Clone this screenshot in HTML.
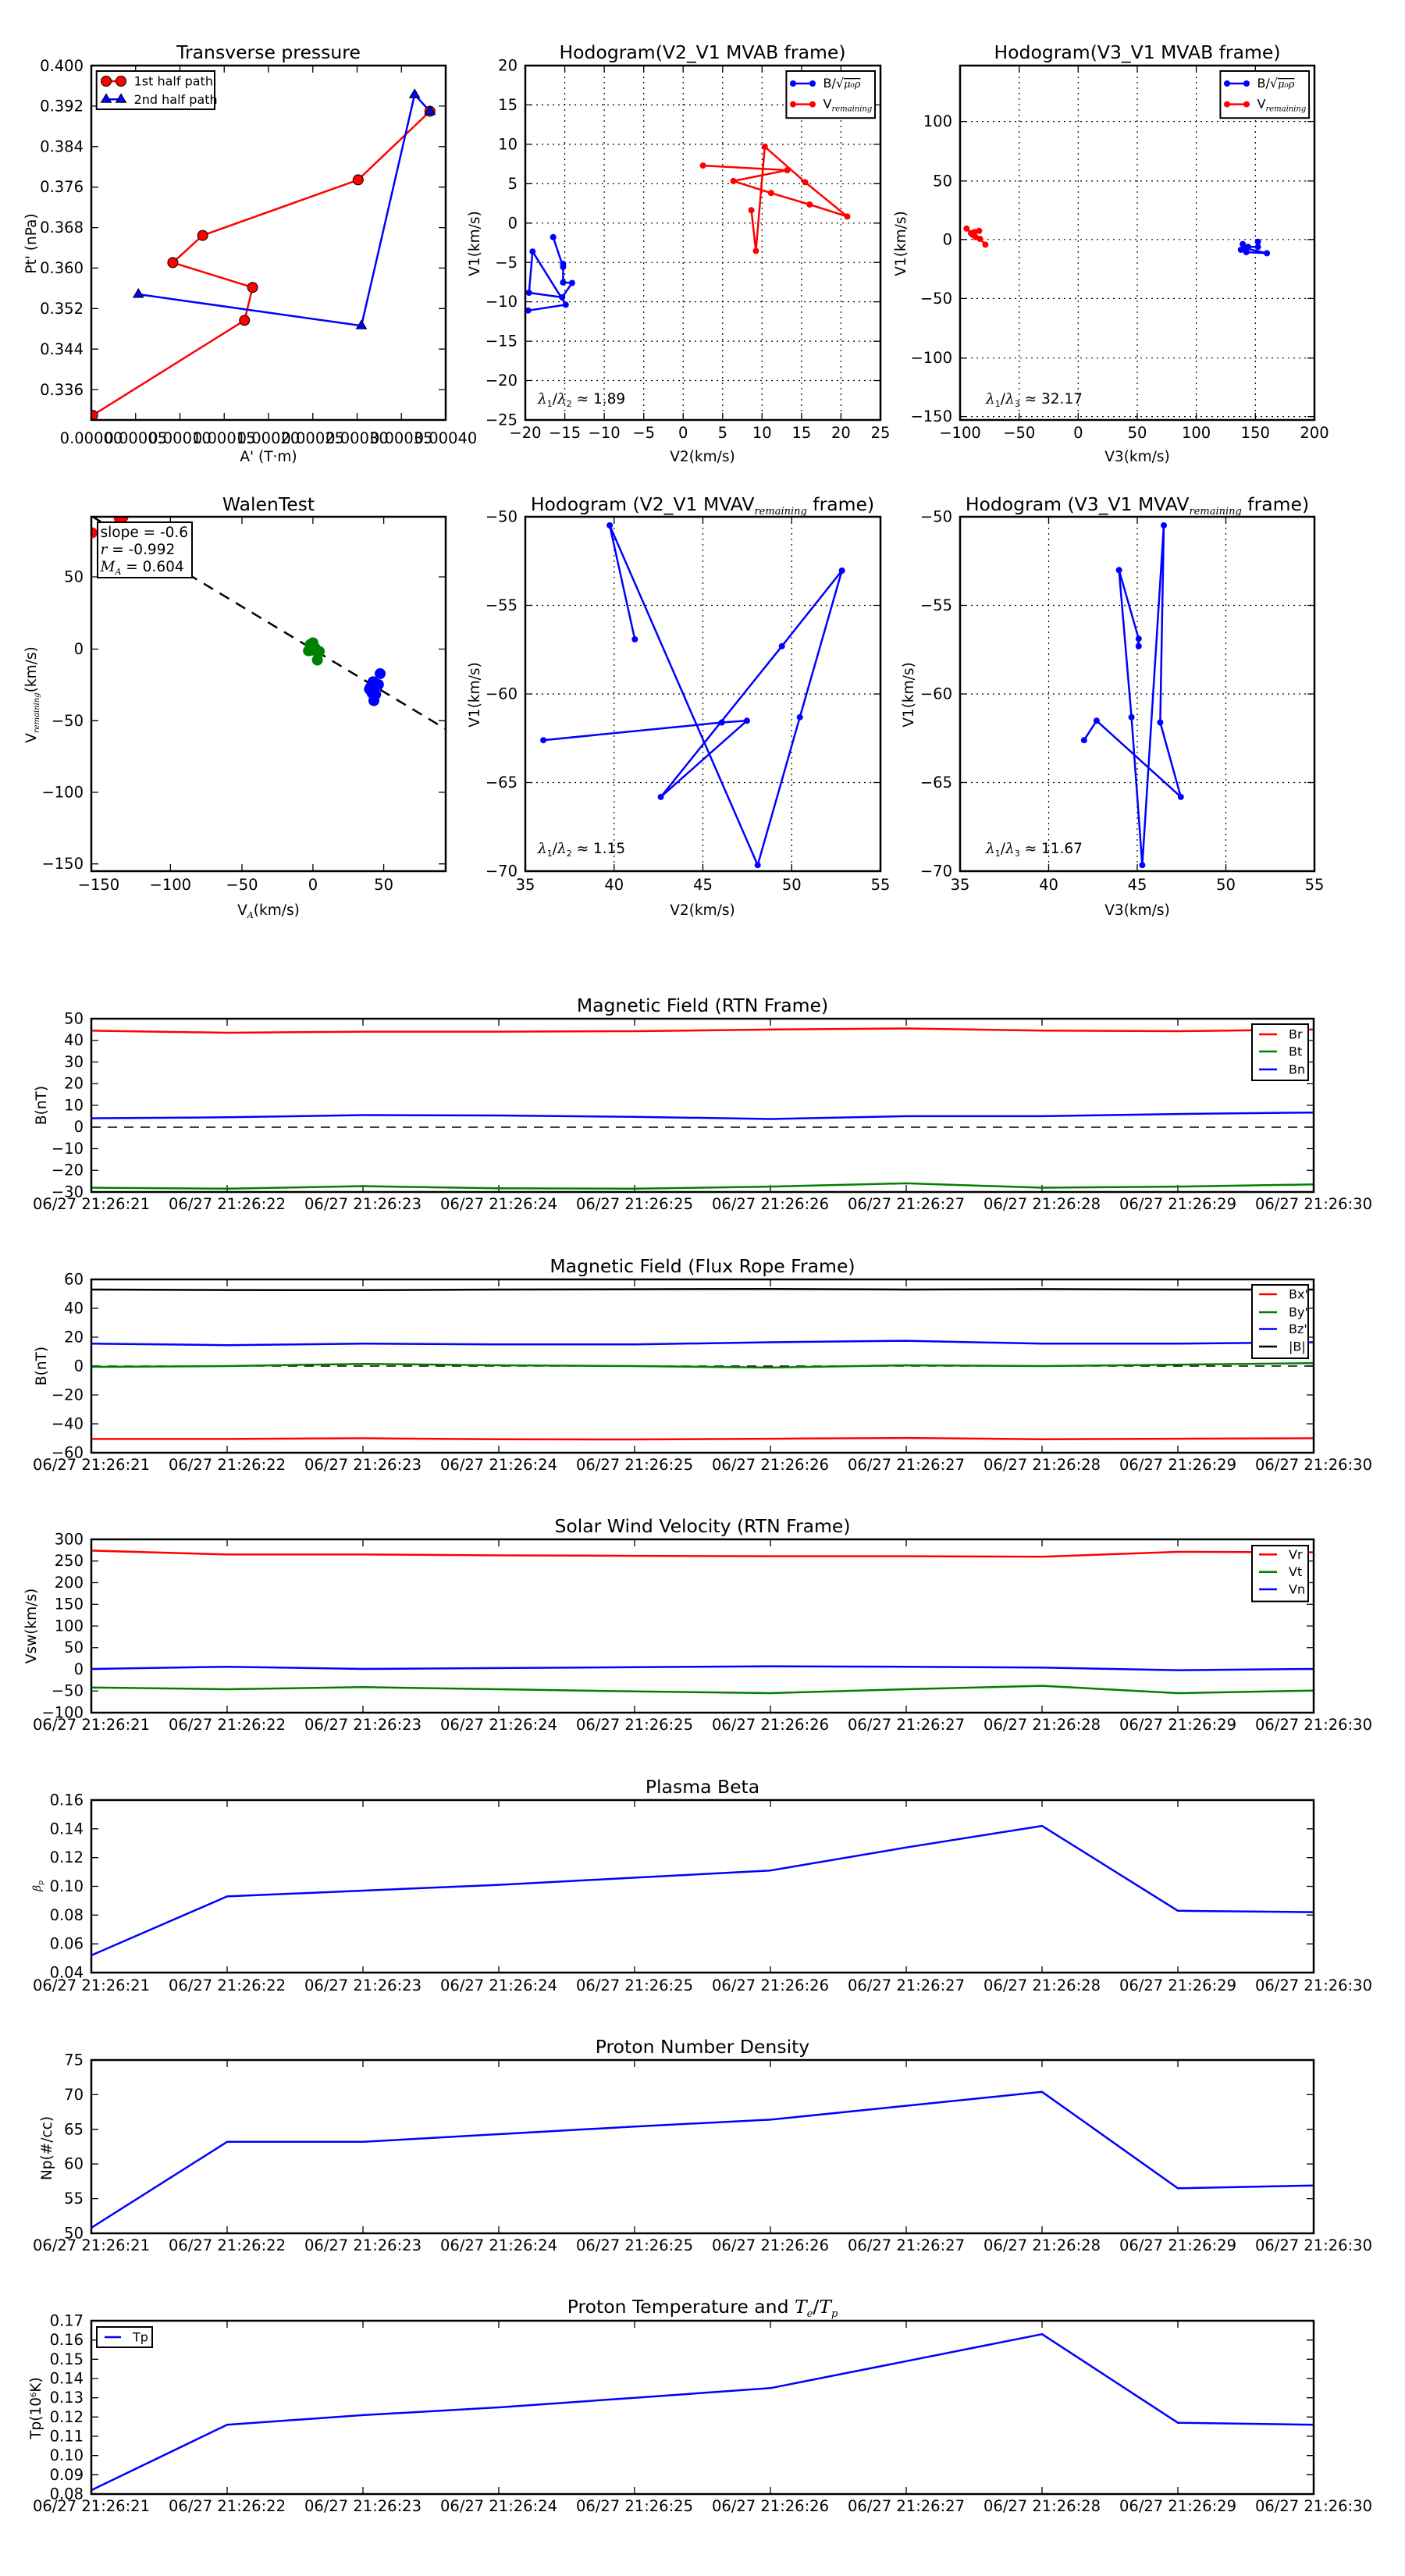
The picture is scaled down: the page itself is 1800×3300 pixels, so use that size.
<!DOCTYPE html>
<html><head><meta charset="utf-8"><style>
html,body{margin:0;padding:0;background:#fff}
svg{display:block}
text{font-family:"DejaVu Sans","Liberation Sans",sans-serif;fill:#000}
.t{font-size:18.5px}
.ti{font-size:23.5px;text-anchor:middle}
.yl{font-size:19.5px;text-anchor:end}
.xl{font-size:19.5px;text-anchor:middle}
.lab{font-size:18.5px;text-anchor:middle}
.lg{font-size:16px}
.ax{fill:none;stroke:#000;stroke-width:2.5}
.tk{fill:none;stroke:#000;stroke-width:1.3}
.gr{fill:none;stroke:#000;stroke-width:1.2;stroke-dasharray:2,5}
.r{fill:none;stroke:#f00;stroke-width:2.5;stroke-linejoin:round}
.g{fill:none;stroke:#008000;stroke-width:2.5;stroke-linejoin:round}
.b{fill:none;stroke:#00f;stroke-width:2.5;stroke-linejoin:round}
.k{fill:none;stroke:#000;stroke-width:2.5}
.it{font-family:"DejaVu Serif","Liberation Serif",serif;font-style:italic}
</style></head><body>
<svg width="1800" height="3300" viewBox="0 0 1800 3300" xmlns="http://www.w3.org/2000/svg">
<rect width="1800" height="3300" fill="#fff"/>

<!-- ============ Panel 1: Transverse pressure ============ -->
<text class="ti" x="344" y="75">Transverse pressure</text>
<path class="tk" d="M117 135.9h9M117 187.8h9M117 239.7h9M117 291.6h9M117 343.4h9M117 395.3h9M117 447.2h9M117 499.1h9M571 135.9h-9M571 187.8h-9M571 239.7h-9M571 291.6h-9M571 343.4h-9M571 395.3h-9M571 447.2h-9M571 499.1h-9
M173.75 84v9M230.5 84v9M287.25 84v9M344 84v9M400.75 84v9M457.5 84v9M514.25 84v9M173.75 538v-9M230.5 538v-9M287.25 538v-9M344 538v-9M400.75 538v-9M457.5 538v-9M514.25 538v-9"/>
<g class="yl"><text x="107" y="91">0.400</text><text x="107" y="142.5">0.392</text><text x="107" y="194.5">0.384</text><text x="107" y="246">0.376</text><text x="107" y="298">0.368</text><text x="107" y="350">0.360</text><text x="107" y="402">0.352</text><text x="107" y="454">0.344</text><text x="107" y="506">0.336</text></g>
<g class="xl"><text x="117" y="568">0.00000</text><text x="173.75" y="568">0.00005</text><text x="230.5" y="568">0.00010</text><text x="287.25" y="568">0.00015</text><text x="344" y="568">0.00020</text><text x="400.75" y="568">0.00025</text><text x="457.5" y="568">0.00030</text><text x="514.25" y="568">0.00035</text><text x="571" y="568">0.00040</text></g>
<text class="lab" x="344" y="591">A' (T·m)</text>
<text class="lab" transform="translate(46,312) rotate(-90)">Pt' (nPa)</text>
<svg x="117" y="84" width="454" height="454" viewBox="117 84 454 454" overflow="hidden">
<polyline class="r" points="118.7,532 313.3,410.4 323.6,368.2 221.4,336.4 259.7,301.6 458.8,230.4 550.8,142.6"/>
<polyline class="b" points="177.3,377 463,417.3 531.2,121.2 550.8,142.6"/>
<g fill="#f00" stroke="#000" stroke-width="1"><circle cx="118.7" cy="532" r="6.5"/><circle cx="313.3" cy="410.4" r="6.5"/><circle cx="323.6" cy="368.2" r="6.5"/><circle cx="221.4" cy="336.4" r="6.5"/><circle cx="259.7" cy="301.6" r="6.5"/><circle cx="458.8" cy="230.4" r="6.5"/><circle cx="550.8" cy="142.6" r="6.5"/></g>
<g fill="#00f" stroke="#000" stroke-width="1"><path d="M177.3 370l6.5 11h-13z"/><path d="M463 410.3l6.5 11h-13z"/><path d="M531.2 114.2l6.5 11h-13z"/><path d="M550.8 135.6l6.5 11h-13z"/></g>
</svg>
<rect class="ax" x="117" y="84" width="454" height="454"/>
<rect x="123.7" y="91" width="151.3" height="49" fill="#fff" stroke="#000" stroke-width="2"/>
<path class="r" d="M136 104H155"/><circle cx="136" cy="104" r="6.5" fill="#f00" stroke="#000"/><circle cx="155" cy="104" r="6.5" fill="#f00" stroke="#000"/>
<path class="b" d="M136 127.3H155"/><path d="M136 120.3l6.5 11h-13zM155 120.3l6.5 11h-13z" fill="#00f" stroke="#000"/>
<text class="lg" x="171.6" y="109.5">1st half path</text><text class="lg" x="171.6" y="132.8">2nd half path</text>

<!-- ============ Panel 2: Hodogram V2_V1 MVAB ============ -->
<text class="ti" x="900" y="75">Hodogram(V2_V1 MVAB frame)</text>
<path class="gr" d="M723.6 84V538M774.1 84V538M824.7 84V538M875.2 84V538M925.8 84V538M976.3 84V538M1026.9 84V538M1077.4 84V538M673 134.4H1128M673 184.9H1128M673 235.3H1128M673 285.8H1128M673 336.2H1128M673 386.6H1128M673 437.1H1128M673 487.5H1128"/>
<path class="tk" d="M723.6 84v9M774.1 84v9M824.7 84v9M875.2 84v9M925.8 84v9M976.3 84v9M1026.9 84v9M1077.4 84v9M723.6 538v-9M774.1 538v-9M824.7 538v-9M875.2 538v-9M925.8 538v-9M976.3 538v-9M1026.9 538v-9M1077.4 538v-9M673 134.4h9M673 184.9h9M673 235.3h9M673 285.8h9M673 336.2h9M673 386.6h9M673 437.1h9M673 487.5h9M1128 134.4h-9M1128 184.9h-9M1128 235.3h-9M1128 285.8h-9M1128 336.2h-9M1128 386.6h-9M1128 437.1h-9M1128 487.5h-9"/>
<g class="yl"><text x="663" y="90.5">20</text><text x="663" y="141">15</text><text x="663" y="191.5">10</text><text x="663" y="242">5</text><text x="663" y="292.5">0</text><text x="663" y="343">−5</text><text x="663" y="393">−10</text><text x="663" y="443.5">−15</text><text x="663" y="494">−20</text><text x="663" y="544.5">−25</text></g>
<g class="xl"><text x="673" y="561">−20</text><text x="723.6" y="561">−15</text><text x="774.1" y="561">−10</text><text x="824.7" y="561">−5</text><text x="875.2" y="561">0</text><text x="925.8" y="561">5</text><text x="976.3" y="561">10</text><text x="1026.9" y="561">15</text><text x="1077.4" y="561">20</text><text x="1128" y="561">25</text></g>
<text class="lab" x="900" y="591">V2(km/s)</text>
<text class="lab" transform="translate(614,312) rotate(-90)">V1(km/s)</text>
<polyline class="b" points="708.7,303.8 721.4,342 721.4,361.8 732.9,362.5 720.2,380.9 677.7,375 682.3,322.2 724.8,390.4 676.6,397.8"/>
<g fill="#00f"><circle cx="708.7" cy="303.8" r="4"/><circle cx="721.4" cy="342" r="4"/><circle cx="721.4" cy="361.8" r="4"/><circle cx="732.9" cy="362.5" r="4"/><circle cx="720.2" cy="380.9" r="4"/><circle cx="677.7" cy="375" r="4"/><circle cx="682.3" cy="322.2" r="4"/><circle cx="724.8" cy="390.4" r="4"/><circle cx="676.6" cy="397.8" r="4"/><circle cx="721.4" cy="338" r="4"/></g>
<polyline class="r" points="962.6,269.3 968.4,321.4 979.8,187.9 1031.5,233.4 1085.5,277.4 1037.3,262 987.9,247.3 939.6,231.9 1008.6,218 900.6,212.1"/>
<g fill="#f00"><circle cx="962.6" cy="269.3" r="4"/><circle cx="968.4" cy="321.4" r="4"/><circle cx="979.8" cy="187.9" r="4"/><circle cx="1031.5" cy="233.4" r="4"/><circle cx="1085.5" cy="277.4" r="4"/><circle cx="1037.3" cy="262" r="4"/><circle cx="987.9" cy="247.3" r="4"/><circle cx="939.6" cy="231.9" r="4"/><circle cx="1008.6" cy="218" r="4"/><circle cx="900.6" cy="212.1" r="4"/></g>
<rect class="ax" x="673" y="84" width="455" height="454"/>
<text class="t" x="689" y="517"><tspan class="it">λ</tspan><tspan font-size="11" dy="4">1</tspan><tspan dy="-4">/</tspan><tspan class="it">λ</tspan><tspan font-size="11" dy="4">2</tspan><tspan dy="-4"> ≈ 1.89</tspan></text>
<rect x="1007.4" y="91" width="113.6" height="60.2" fill="#fff" stroke="#000" stroke-width="2"/>
<path class="b" d="M1016 107H1041"/><circle cx="1016" cy="107" r="4" fill="#00f"/><circle cx="1041" cy="107" r="4" fill="#00f"/>
<path class="r" d="M1016 133.6H1041"/><circle cx="1016" cy="133.6" r="4" fill="#f00"/><circle cx="1041" cy="133.6" r="4" fill="#f00"/>
<text class="lg" x="1054.5" y="112">B/<tspan>√</tspan><tspan class="it" font-size="13" text-decoration="overline">μ₀ρ</tspan></text>
<text class="lg" x="1054.5" y="138.5">V<tspan class="it" font-size="10" dy="4">remaining</tspan></text>

<!-- ============ Panel 3: Hodogram V3_V1 MVAB ============ -->
<text class="ti" x="1457" y="75">Hodogram(V3_V1 MVAB frame)</text>
<path class="gr" d="M1305.7 84V538M1381.3 84V538M1457 84V538M1532.6 84V538M1608.3 84V538M1230 155.6H1684M1230 231.9H1684M1230 306.8H1684M1230 382.4H1684M1230 458.7H1684M1230 533.6H1684"/>
<path class="tk" d="M1305.7 84v9M1381.3 84v9M1457 84v9M1532.6 84v9M1608.3 84v9M1305.7 538v-9M1381.3 538v-9M1457 538v-9M1532.6 538v-9M1608.3 538v-9M1230 155.6h9M1230 231.9h9M1230 306.8h9M1230 382.4h9M1230 458.7h9M1230 533.6h9M1684 155.6h-9M1684 231.9h-9M1684 306.8h-9M1684 382.4h-9M1684 458.7h-9M1684 533.6h-9"/>
<g class="yl"><text x="1220" y="162">100</text><text x="1220" y="238.5">50</text><text x="1220" y="313.5">0</text><text x="1220" y="389">−50</text><text x="1220" y="465">−100</text><text x="1220" y="540">−150</text></g>
<g class="xl"><text x="1230" y="561">−100</text><text x="1305.7" y="561">−50</text><text x="1381.3" y="561">0</text><text x="1457" y="561">50</text><text x="1532.6" y="561">100</text><text x="1608.3" y="561">150</text><text x="1684" y="561">200</text></g>
<text class="lab" x="1457" y="591">V3(km/s)</text>
<text class="lab" transform="translate(1160,312) rotate(-90)">V1(km/s)</text>
<polyline class="r" points="1238.3,292.8 1244,298.7 1248.6,297.2 1254.4,295.8 1246.3,300.9 1249.8,303.8 1255.5,306 1262.4,313.4"/>
<g fill="#f00"><circle cx="1238.3" cy="292.8" r="4"/><circle cx="1244" cy="298.7" r="4"/><circle cx="1248.6" cy="297.2" r="4"/><circle cx="1254.4" cy="295.8" r="4"/><circle cx="1246.3" cy="300.9" r="4"/><circle cx="1249.8" cy="303.8" r="4"/><circle cx="1255.5" cy="306" r="4"/><circle cx="1262.4" cy="313.4" r="4"/></g>
<polyline class="b" points="1592.1,312.6 1589.8,320 1596.7,323 1623.1,324.4 1594.4,317.8 1599,316.3 1611.6,316.3 1611.6,309.7"/>
<g fill="#00f"><circle cx="1589.8" cy="320" r="4"/><circle cx="1592.1" cy="312.6" r="4"/><circle cx="1596.7" cy="323" r="4"/><circle cx="1599" cy="316.3" r="4"/><circle cx="1611.6" cy="316.3" r="4"/><circle cx="1611.6" cy="309.7" r="4"/><circle cx="1623.1" cy="324.4" r="4"/><circle cx="1594.4" cy="317.8" r="4"/></g>
<rect class="ax" x="1230" y="84" width="454" height="454"/>
<text class="t" x="1263" y="517"><tspan class="it">λ</tspan><tspan font-size="11" dy="4">1</tspan><tspan dy="-4">/</tspan><tspan class="it">λ</tspan><tspan font-size="11" dy="4">3</tspan><tspan dy="-4"> ≈ 32.17</tspan></text>
<rect x="1563.4" y="91" width="113.7" height="60.2" fill="#fff" stroke="#000" stroke-width="2"/>
<path class="b" d="M1572 107H1597"/><circle cx="1572" cy="107" r="4" fill="#00f"/><circle cx="1597" cy="107" r="4" fill="#00f"/>
<path class="r" d="M1572 133.6H1597"/><circle cx="1572" cy="133.6" r="4" fill="#f00"/><circle cx="1597" cy="133.6" r="4" fill="#f00"/>
<text class="lg" x="1610.5" y="112">B/<tspan>√</tspan><tspan class="it" font-size="13" text-decoration="overline">μ₀ρ</tspan></text>
<text class="lg" x="1610.5" y="138.5">V<tspan class="it" font-size="10" dy="4">remaining</tspan></text>

<!-- ============ Panel 4: WalenTest ============ -->
<text class="ti" x="344" y="654">WalenTest</text>
<path class="tk" d="M218.3 662v9M310 662v9M400.9 662v9M491.6 662v9M218.3 1116v-9M310 1116v-9M400.9 1116v-9M491.6 1116v-9M117 739h9M117 831.5h9M117 923.3h9M117 1015h9M117 1106.7h9M571 739h-9M571 831.5h-9M571 923.3h-9M571 1015h-9M571 1106.7h-9"/>
<g class="yl"><text x="107" y="745.5">50</text><text x="107" y="838">0</text><text x="107" y="930">−50</text><text x="107" y="1021.5">−100</text><text x="107" y="1113">−150</text></g>
<g class="xl"><text x="126.4" y="1140">−150</text><text x="218.3" y="1140">−100</text><text x="310" y="1140">−50</text><text x="400.9" y="1140">0</text><text x="491.6" y="1140">50</text></g>
<text class="lab" x="344" y="1172">V<tspan font-size="11" dy="4" class="it">A</tspan><tspan dy="-4">(km/s)</tspan></text>
<text class="lab" transform="translate(46,890) rotate(-90)">V<tspan font-size="10" dy="4" class="it">remaining</tspan><tspan dy="-4">(km/s)</tspan></text>
<svg x="117" y="662" width="454" height="454" viewBox="117 662 454 454" overflow="hidden">
<path d="M117 661L571 934" stroke="#000" stroke-width="2.5" stroke-dasharray="14,10" fill="none"/>
<g fill="#f00"><circle cx="118" cy="682.6" r="7"/><circle cx="152.8" cy="664" r="7"/><circle cx="157.4" cy="662.7" r="7"/></g>
<g fill="#008000"><circle cx="397.5" cy="825.6" r="7"/><circle cx="400.9" cy="823.5" r="7"/><circle cx="398.6" cy="833" r="7"/><circle cx="403.2" cy="829.3" r="7"/><circle cx="407.8" cy="836.7" r="7"/><circle cx="409" cy="834.5" r="7"/><circle cx="406.6" cy="845.5" r="7"/><circle cx="395.2" cy="833.7" r="7"/></g>
<g fill="#00f"><circle cx="487" cy="863" r="7"/><circle cx="477.9" cy="873.4" r="7"/><circle cx="480.2" cy="877" r="7"/><circle cx="484.8" cy="877" r="7"/><circle cx="474.4" cy="880.7" r="7"/><circle cx="476.7" cy="888" r="7"/><circle cx="481.3" cy="889.5" r="7"/><circle cx="479" cy="897.6" r="7"/><circle cx="473.3" cy="882.9" r="7"/></g>
</svg>
<rect class="ax" x="117" y="662" width="454" height="454"/>
<rect x="125" y="669" width="121" height="71" fill="#fff" stroke="#000" stroke-width="2"/>
<text class="t" x="128.5" y="688">slope = -0.6</text>
<text class="t" x="128.5" y="710"><tspan class="it">r</tspan> = -0.992</text>
<text class="t" x="128.5" y="732"><tspan class="it">M</tspan><tspan class="it" font-size="11" dy="4">A</tspan><tspan dy="-4"> = 0.604</tspan></text>

<!-- ============ Panel 5: Hodogram V2_V1 MVAV ============ -->
<text class="ti" x="900" y="654">Hodogram (V2_V1 MVAV<tspan class="it" font-size="13" dy="5">remaining</tspan><tspan dy="-5"> frame)</tspan></text>
<path class="gr" d="M786.75 662V1116M900.5 662V1116M1014.25 662V1116M673 775.5H1128M673 889H1128M673 1002.5H1128"/>
<path class="tk" d="M786.75 662v9M900.5 662v9M1014.25 662v9M786.75 1116v-9M900.5 1116v-9M1014.25 1116v-9M673 775.5h9M673 889h9M673 1002.5h9M1128 775.5h-9M1128 889h-9M1128 1002.5h-9"/>
<g class="yl"><text x="663" y="668.5">−50</text><text x="663" y="782">−55</text><text x="663" y="895.5">−60</text><text x="663" y="1009">−65</text><text x="663" y="1122.5">−70</text></g>
<g class="xl"><text x="673" y="1140">35</text><text x="786.75" y="1140">40</text><text x="900.5" y="1140">45</text><text x="1014.25" y="1140">50</text><text x="1128" y="1140">55</text></g>
<text class="lab" x="900" y="1172">V2(km/s)</text>
<text class="lab" transform="translate(614,890) rotate(-90)">V1(km/s)</text>
<polyline class="b" points="813.3,819 781.1,673 970.7,1108.2 1024.7,918.8 1078.6,731 1001.7,827.8 846.6,1020.9 956.9,923.3 924.7,925.5 696.1,948.2"/>
<g fill="#00f"><circle cx="813.3" cy="819" r="4"/><circle cx="781.1" cy="673" r="4"/><circle cx="970.7" cy="1108.2" r="4"/><circle cx="1024.7" cy="918.8" r="4"/><circle cx="1078.6" cy="731" r="4"/><circle cx="1001.7" cy="827.8" r="4"/><circle cx="846.6" cy="1020.9" r="4"/><circle cx="956.9" cy="923.3" r="4"/><circle cx="924.7" cy="925.5" r="4"/><circle cx="696.1" cy="948.2" r="4"/></g>
<rect class="ax" x="673" y="662" width="455" height="454"/>
<text class="t" x="689" y="1093"><tspan class="it">λ</tspan><tspan font-size="11" dy="4">1</tspan><tspan dy="-4">/</tspan><tspan class="it">λ</tspan><tspan font-size="11" dy="4">2</tspan><tspan dy="-4"> ≈ 1.15</tspan></text>

<!-- ============ Panel 6: Hodogram V3_V1 MVAV ============ -->
<text class="ti" x="1457" y="654">Hodogram (V3_V1 MVAV<tspan class="it" font-size="13" dy="5">remaining</tspan><tspan dy="-5"> frame)</tspan></text>
<path class="gr" d="M1343.5 662V1116M1457 662V1116M1570.5 662V1116M1230 775.5H1684M1230 889H1684M1230 1002.5H1684"/>
<path class="tk" d="M1343.5 662v9M1457 662v9M1570.5 662v9M1343.5 1116v-9M1457 1116v-9M1570.5 1116v-9M1230 775.5h9M1230 889h9M1230 1002.5h9M1684 775.5h-9M1684 889h-9M1684 1002.5h-9"/>
<g class="yl"><text x="1220" y="668.5">−50</text><text x="1220" y="782">−55</text><text x="1220" y="895.5">−60</text><text x="1220" y="1009">−65</text><text x="1220" y="1122.5">−70</text></g>
<g class="xl"><text x="1230" y="1140">35</text><text x="1343.5" y="1140">40</text><text x="1457" y="1140">45</text><text x="1570.5" y="1140">50</text><text x="1684" y="1140">55</text></g>
<text class="lab" x="1457" y="1172">V3(km/s)</text>
<text class="lab" transform="translate(1170,890) rotate(-90)">V1(km/s)</text>
<polyline class="b" points="1388.8,948.2 1404.9,923.3 1512.8,1020.9 1486.4,925.5 1491,673 1463.4,1108.2 1449.6,918.8 1433.6,730.3 1458.8,818.3 1458.8,827.8"/>
<g fill="#00f"><circle cx="1388.8" cy="948.2" r="4"/><circle cx="1404.9" cy="923.3" r="4"/><circle cx="1512.8" cy="1020.9" r="4"/><circle cx="1486.4" cy="925.5" r="4"/><circle cx="1491" cy="673" r="4"/><circle cx="1463.4" cy="1108.2" r="4"/><circle cx="1449.6" cy="918.8" r="4"/><circle cx="1433.6" cy="730.3" r="4"/><circle cx="1458.8" cy="818.3" r="4"/><circle cx="1458.8" cy="827.8" r="4"/></g>
<rect class="ax" x="1230" y="662" width="454" height="454"/>
<text class="t" x="1263" y="1093"><tspan class="it">λ</tspan><tspan font-size="11" dy="4">1</tspan><tspan dy="-4">/</tspan><tspan class="it">λ</tspan><tspan font-size="11" dy="4">3</tspan><tspan dy="-4"> ≈ 11.67</tspan></text>

<!-- ============ Time series common ticks ============ -->
<defs>
<g id="xt">
<path class="tk" d="M291 0v9M465 0v9M639 0v9M813 0v9M987 0v9M1161 0v9M1335 0v9M1509 0v9M291 222v-9M465 222v-9M639 222v-9M813 222v-9M987 222v-9M1161 222v-9M1335 222v-9M1509 222v-9"/>
<g class="xl"><text x="117" y="244">06/27 21:26:21</text><text x="291" y="244">06/27 21:26:22</text><text x="465" y="244">06/27 21:26:23</text><text x="639" y="244">06/27 21:26:24</text><text x="813" y="244">06/27 21:26:25</text><text x="987" y="244">06/27 21:26:26</text><text x="1161" y="244">06/27 21:26:27</text><text x="1335" y="244">06/27 21:26:28</text><text x="1509" y="244">06/27 21:26:29</text><text x="1683" y="244">06/27 21:26:30</text></g>
</g>
</defs>

<!-- RTN -->
<text class="ti" x="900" y="1296">Magnetic Field (RTN Frame)</text>
<use href="#xt" x="0" y="1305"/>
<path class="tk" d="M117 1332.75h9M117 1360.5h9M117 1388.25h9M117 1416h9M117 1443.75h9M117 1471.5h9M117 1499.25h9M1683 1332.75h-9M1683 1360.5h-9M1683 1388.25h-9M1683 1416h-9M1683 1443.75h-9M1683 1471.5h-9M1683 1499.25h-9"/>
<g class="yl"><text x="107" y="1311.5">50</text><text x="107" y="1339">40</text><text x="107" y="1367">30</text><text x="107" y="1394.5">20</text><text x="107" y="1422.5">10</text><text x="107" y="1450">0</text><text x="107" y="1478">−10</text><text x="107" y="1505.5">−20</text><text x="107" y="1533.5">−30</text></g>
<text class="lab" transform="translate(59,1416) rotate(-90)">B(nT)</text>
<path d="M117 1444H1683" stroke="#000" stroke-width="1.5" stroke-dasharray="12,9"/>
<polyline class="r" points="117,1320.3 291,1323 465,1321.6 639,1321.6 813,1321 987,1318.9 1161,1317.5 1335,1320.3 1509,1321 1683,1318.9"/>
<polyline class="b" points="117,1432.6 291,1431.3 465,1428.5 639,1429 813,1430.7 987,1433.5 1161,1429.9 1335,1429.9 1509,1427.1 1683,1425.2"/>
<polyline class="g" points="117,1521.5 291,1522.8 465,1519.5 639,1522.3 813,1522.8 987,1520.1 1161,1515.9 1335,1521.5 1509,1520.1 1683,1517.3"/>
<rect class="ax" x="117" y="1305" width="1566" height="222"/>
<rect x="1604" y="1312" width="72" height="72" fill="#fff" stroke="#000" stroke-width="2"/>
<path class="r" d="M1613 1325h23"/><path class="g" d="M1613 1347h23"/><path class="b" d="M1613 1370h23"/>
<text class="lg" x="1651" y="1330.5">Br</text><text class="lg" x="1651" y="1352.5">Bt</text><text class="lg" x="1651" y="1375.5">Bn</text>

<!-- Flux rope -->
<text class="ti" x="900" y="1630">Magnetic Field (Flux Rope Frame)</text>
<use href="#xt" x="0" y="1639"/>
<path class="tk" d="M117 1676h9M117 1713h9M117 1750h9M117 1787h9M117 1824h9M1683 1676h-9M1683 1713h-9M1683 1750h-9M1683 1787h-9M1683 1824h-9"/>
<g class="yl"><text x="107" y="1645.5">60</text><text x="107" y="1682.5">40</text><text x="107" y="1719.5">20</text><text x="107" y="1756.5">0</text><text x="107" y="1793.5">−20</text><text x="107" y="1830.5">−40</text><text x="107" y="1867.5">−60</text></g>
<text class="lab" transform="translate(59,1750) rotate(-90)">B(nT)</text>
<path d="M117 1750H1683" stroke="#000" stroke-width="1.5" stroke-dasharray="12,9"/>
<polyline class="k" points="117,1652 291,1652.6 465,1652.8 639,1652 813,1651.6 987,1651.2 1161,1652 1335,1651.4 1509,1652 1683,1652"/>
<polyline class="b" points="117,1721.3 291,1723.2 465,1721.3 639,1722.3 813,1722.3 987,1719.5 1161,1717.6 1335,1721.3 1509,1721.3 1683,1719.5"/>
<polyline class="g" points="117,1751 291,1750 465,1747.2 639,1749 813,1750 987,1751.9 1161,1749 1335,1750 1509,1748.2 1683,1746.3"/>
<polyline class="r" points="117,1843.4 291,1843.4 465,1842.5 639,1843.8 813,1844 987,1843.1 1161,1842.1 1335,1843.8 1509,1843.1 1683,1842.5"/>
<rect class="ax" x="117" y="1639" width="1566" height="222"/>
<rect x="1604" y="1646" width="72" height="94" fill="#fff" stroke="#000" stroke-width="2"/>
<path class="r" d="M1613 1658h23"/><path class="g" d="M1613 1681h23"/><path class="b" d="M1613 1702.5h23"/><path class="k" d="M1613 1725h23"/>
<text class="lg" x="1651" y="1663.5">Bx'</text><text class="lg" x="1651" y="1686.5">By'</text><text class="lg" x="1651" y="1708">Bz'</text><text class="lg" x="1651" y="1730.5">|B|</text>

<!-- Velocity -->
<text class="ti" x="900" y="1963">Solar Wind Velocity (RTN Frame)</text>
<use href="#xt" x="0" y="1972"/>
<path class="tk" d="M117 1999.75h9M117 2027.5h9M117 2055.25h9M117 2083h9M117 2110.75h9M117 2138.5h9M117 2166.25h9M1683 1999.75h-9M1683 2027.5h-9M1683 2055.25h-9M1683 2083h-9M1683 2110.75h-9M1683 2138.5h-9M1683 2166.25h-9"/>
<g class="yl"><text x="107" y="1978.5">300</text><text x="107" y="2006">250</text><text x="107" y="2034">200</text><text x="107" y="2061.5">150</text><text x="107" y="2089.5">100</text><text x="107" y="2117">50</text><text x="107" y="2145">0</text><text x="107" y="2172.5">−50</text><text x="107" y="2200.5">−100</text></g>
<text class="lab" transform="translate(46,2083) rotate(-90)">Vsw(km/s)</text>
<polyline class="r" points="117,1986.4 291,1991.4 465,1991.4 639,1992.5 813,1993.1 987,1993.6 1161,1993.6 1335,1994.2 1509,1988 1683,1988.6"/>
<polyline class="b" points="117,2138 291,2135.2 465,2138 639,2136.9 813,2135.8 987,2134.6 1161,2135.2 1335,2136.3 1509,2139.6 1683,2138"/>
<polyline class="g" points="117,2161.8 291,2164 465,2161.3 639,2164 813,2166.8 987,2169 1161,2164 1335,2159.6 1509,2169 1683,2165.7"/>
<rect class="ax" x="117" y="1972" width="1566" height="222"/>
<rect x="1604" y="1980" width="72" height="71.5" fill="#fff" stroke="#000" stroke-width="2"/>
<path class="r" d="M1613 1991.4h23"/><path class="g" d="M1613 2013.7h23"/><path class="b" d="M1613 2036h23"/>
<text class="lg" x="1651" y="1997">Vr</text><text class="lg" x="1651" y="2019">Vt</text><text class="lg" x="1651" y="2041.5">Vn</text>

<!-- Plasma beta -->
<text class="ti" x="900" y="2297">Plasma Beta</text>
<use href="#xt" x="0" y="2306"/>
<path class="tk" d="M117 2342.8h9M117 2379.7h9M117 2416.5h9M117 2453.3h9M117 2490.2h9M1683 2342.8h-9M1683 2379.7h-9M1683 2416.5h-9M1683 2453.3h-9M1683 2490.2h-9"/>
<g class="yl"><text x="107" y="2312.5">0.16</text><text x="107" y="2349.5">0.14</text><text x="107" y="2386">0.12</text><text x="107" y="2423">0.10</text><text x="107" y="2460">0.08</text><text x="107" y="2496.5">0.06</text><text x="107" y="2533.5">0.04</text></g>
<text class="lab" transform="translate(52,2416) rotate(-90)"><tspan class="it" font-size="14">β</tspan><tspan class="it" font-size="9" dy="3">p</tspan></text>
<polyline class="b" points="117,2504.9 291,2429.4 465,2422 639,2414.6 813,2405.4 987,2396.2 1161,2366.7 1335,2339.1 1509,2447.8 1683,2449.6"/>
<rect class="ax" x="117" y="2306" width="1566" height="221"/>

<!-- Density -->
<text class="ti" x="900" y="2630">Proton Number Density</text>
<use href="#xt" x="0" y="2639"/>
<path class="tk" d="M117 2683.4h9M117 2727.8h9M117 2772.2h9M117 2816.6h9M1683 2683.4h-9M1683 2727.8h-9M1683 2772.2h-9M1683 2816.6h-9"/>
<g class="yl"><text x="107" y="2645.5">75</text><text x="107" y="2690">70</text><text x="107" y="2734.5">65</text><text x="107" y="2778.5">60</text><text x="107" y="2823">55</text><text x="107" y="2867.5">50</text></g>
<text class="lab" transform="translate(66,2752) rotate(-90)">Np(#/cc)</text>
<polyline class="b" points="117,2853.9 291,2743.8 465,2743.8 639,2734 813,2724.2 987,2715.4 1161,2697.6 1335,2679.8 1509,2803.3 1683,2799.7"/>
<rect class="ax" x="117" y="2639" width="1566" height="222"/>

<!-- Temperature -->
<text class="ti" x="900" y="2963">Proton Temperature and <tspan class="it">T</tspan><tspan class="it" font-size="13" dy="5">e</tspan><tspan dy="-5">/</tspan><tspan class="it">T</tspan><tspan class="it" font-size="13" dy="5">p</tspan></text>
<use href="#xt" x="0" y="2973"/>
<path class="tk" d="M117 2997.7h9M117 3022.3h9M117 3047h9M117 3071.7h9M117 3096.3h9M117 3121h9M117 3145.7h9M117 3170.3h9M1683 2997.7h-9M1683 3022.3h-9M1683 3047h-9M1683 3071.7h-9M1683 3096.3h-9M1683 3121h-9M1683 3145.7h-9M1683 3170.3h-9"/>
<g class="yl"><text x="107" y="2979.5">0.17</text><text x="107" y="3004">0.16</text><text x="107" y="3029">0.15</text><text x="107" y="3053.5">0.14</text><text x="107" y="3078">0.13</text><text x="107" y="3103">0.12</text><text x="107" y="3127.5">0.11</text><text x="107" y="3152">0.10</text><text x="107" y="3177">0.09</text><text x="107" y="3201.5">0.08</text></g>
<text class="lab" transform="translate(52,3085) rotate(-90)">Tp(10<tspan font-size="10" dy="-6">6</tspan><tspan dy="6">K)</tspan></text>
<polyline class="b" points="117,3190.1 291,3106.2 465,3093.9 639,3084 813,3071.7 987,3059.3 1161,3024.8 1335,2990.2 1509,3103.7 1683,3106.2"/>
<rect class="ax" x="117" y="2973" width="1566" height="222"/>
<rect x="124" y="2981" width="71" height="26" fill="#fff" stroke="#000" stroke-width="2"/>
<path class="b" d="M134 2994h21"/><text class="lg" x="170" y="2999.5">Tp</text>
</svg>
</body></html>
